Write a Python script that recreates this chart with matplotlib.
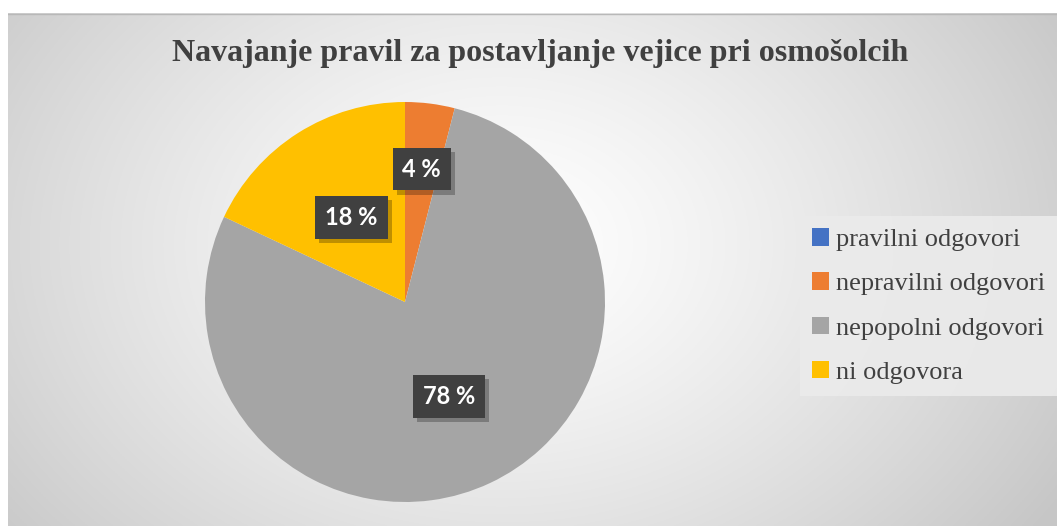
import numpy as np
import matplotlib
matplotlib.use("Agg")
import matplotlib.pyplot as plt
import matplotlib.patheffects as pe

title = "Navajanje pravil za postavljanje vejice pri osmošolcih"
categories = ["pravilni odgovori", "nepravilni odgovori", "nepopolni odgovori", "ni odgovora"]
values = [0, 4, 78, 18]
colors = ["#4472C4", "#ED7D31", "#A5A5A5", "#FFC000"]

W, H = 1057, 526
fig = plt.figure(figsize=(W / 100, H / 100), dpi=100)
fig.patch.set_facecolor("white")

# background chart area with radial gradient
x0, y0 = 8 / W, 0
bw, bh = (W - 8) / W, (H - 13) / H
bg = fig.add_axes([x0, y0, bw, bh])
bg.set_axis_off()
ny, nx = 300, 600
yy, xx = np.mgrid[0:ny, 0:nx]
cx, cy = 0.47 * nx, 0.45 * ny
d = np.sqrt(((xx - cx) / (nx * 0.62)) ** 2 + ((yy - cy) / (ny * 0.95)) ** 2)
d = np.clip(d, 0, 1)
v = 1.0 - 0.22 * d ** 1.3
img = np.dstack([v, v, v])
bg.imshow(img, aspect="auto", extent=[0, 1, 0, 1], origin="upper")
bg.set_xlim(0, 1)
bg.set_ylim(0, 1)
bg.plot([0, 1], [0.999, 0.999], color="#b8b8b8", lw=1)

# pie
cxp, cyp, r = 405, 302, 200
ax = fig.add_axes([(cxp - r) / W, (H - cyp - r) / H, 2 * r / W, 2 * r / H])
ax.set_axis_off()
wedges, _ = ax.pie(values, colors=colors, startangle=90, counterclock=False,
                   radius=1.0, wedgeprops=dict(linewidth=0))
ax.set_xlim(-1, 1)
ax.set_ylim(-1, 1)

label_dist = [0.6, 0.67, 0.52, 0.5]
total = sum(values)
ang = 90.0
for val, dist in zip(values, label_dist):
    span = 360.0 * val / total
    mid = np.deg2rad(ang - span / 2)
    ang -= span
    if val == 0:
        continue
    tx, ty = dist * np.cos(mid), dist * np.sin(mid)
    t = ax.text(tx, ty, f"{val} %", ha="center", va="center", fontsize=17,
                fontweight="bold", family="Lato", color="white",
                bbox=dict(boxstyle="square,pad=0.42", fc="#404040", ec="none"))
    t.get_bbox_patch().set_path_effects(
        [pe.SimplePatchShadow(offset=(3, -3), shadow_rgbFace="black", alpha=0.25), pe.Normal()])

# title
fig.text(540 / W, 1 - 54 / H, title, ha="center", va="center", fontsize=23,
         fontweight="bold", family="Liberation Serif", color="#404040")

# legend
leg = fig.legend(wedges, categories, loc="center left",
                 bbox_to_anchor=(800 / W, 1 - 306 / H),
                 prop=dict(family="Liberation Serif", size=19),
                 frameon=True, fancybox=False, handlelength=0.65, handleheight=0.65,
                 handletextpad=0.25, labelspacing=0.8, borderpad=0.45,
                 borderaxespad=0, labelcolor="#404040")
leg.get_frame().set_facecolor("#ebebeb")
leg.get_frame().set_edgecolor("none")
leg.get_frame().set_alpha(0.9)

fig.savefig("out.png", dpi=100, facecolor="white")
